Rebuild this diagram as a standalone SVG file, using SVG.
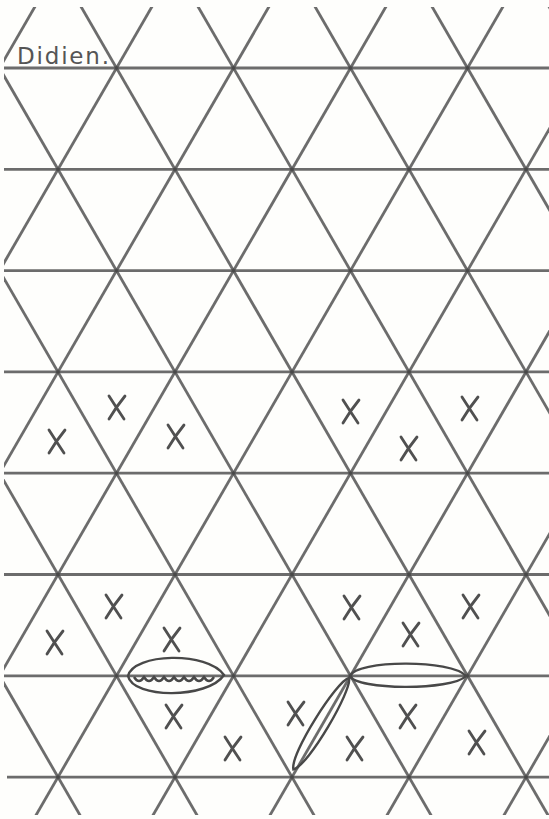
<svg xmlns="http://www.w3.org/2000/svg" width="549" height="819" viewBox="0 0 549 819">
<style>
.g{stroke:#474747;stroke-opacity:0.8;stroke-width:2.8;fill:none}
.x{stroke:#505050;stroke-width:2.8;fill:none;stroke-linecap:round}
.lens{stroke:#484848;stroke-width:2.4;fill:none}
</style>
<defs>
<clipPath id="clip"><rect x="4" y="7" width="545" height="808"/></clipPath>
<path id="xm" d="M-7,-11 Q0,0 8,12 M9,-11 Q0,0 -7,12"/>
</defs>
<rect width="549" height="819" fill="#fefefc"/>
<g id="grid" clip-path="url(#clip)">
<g id="horizontal">
<line class="g" x1="0" y1="68" x2="549" y2="68"/>
<line class="g" x1="0" y1="169.3" x2="549" y2="169.3"/>
<line class="g" x1="0" y1="270.6" x2="549" y2="270.6"/>
<line class="g" x1="0" y1="371.9" x2="549" y2="371.9"/>
<line class="g" x1="0" y1="473.2" x2="549" y2="473.2"/>
<line class="g" x1="0" y1="574.5" x2="549" y2="574.5"/>
<line class="g" x1="0" y1="675.8" x2="549" y2="675.8"/>
<line class="g" x1="7" y1="777.1" x2="549" y2="777.1"/>
</g>
<g id="diag-down">
<line class="g" x1="-390.8" y1="0" x2="82.2" y2="819"/>
<line class="g" x1="-273.8" y1="0" x2="199.2" y2="819"/>
<line class="g" x1="-156.8" y1="0" x2="316.2" y2="819"/>
<line class="g" x1="-39.8" y1="0" x2="433.2" y2="819"/>
<line class="g" x1="77.2" y1="0" x2="550.2" y2="819"/>
<line class="g" x1="194.2" y1="0" x2="667.2" y2="819"/>
<line class="g" x1="311.2" y1="0" x2="784.2" y2="819"/>
<line class="g" x1="428.2" y1="0" x2="901.2" y2="819"/>
<line class="g" x1="545.2" y1="0" x2="1018.2" y2="819"/>
</g>
<g id="diag-up">
<line class="g" x1="38.8" y1="0" x2="-434.2" y2="819"/>
<line class="g" x1="155.8" y1="0" x2="-317.2" y2="819"/>
<line class="g" x1="272.8" y1="0" x2="-200.2" y2="819"/>
<line class="g" x1="389.8" y1="0" x2="-83.2" y2="819"/>
<line class="g" x1="506.8" y1="0" x2="33.8" y2="819"/>
<line class="g" x1="623.8" y1="0" x2="150.8" y2="819"/>
<line class="g" x1="740.8" y1="0" x2="267.8" y2="819"/>
<line class="g" x1="857.8" y1="0" x2="384.8" y2="819"/>
<line class="g" x1="974.8" y1="0" x2="501.8" y2="819"/>
</g>
</g>
<g id="label">
<text x="17" y="64" font-family="DejaVu Sans, sans-serif" font-size="23" fill="#555" textLength="92" lengthAdjust="spacing">Didien.</text>
</g>
<g id="marks-row4" class="x">
<use href="#xm" x="56" y="441"/>
<use href="#xm" x="116" y="407"/>
<use href="#xm" x="175" y="436"/>
<use href="#xm" x="350" y="411"/>
<use href="#xm" x="408" y="448"/>
<use href="#xm" x="469" y="408"/>
</g>
<g id="marks-row6" class="x">
<use href="#xm" x="54" y="642"/>
<use href="#xm" x="113" y="606"/>
<use href="#xm" x="171" y="639"/>
<use href="#xm" x="351" y="607"/>
<use href="#xm" x="410" y="634"/>
<use href="#xm" x="470" y="606"/>
</g>
<g id="marks-row7" class="x">
<use href="#xm" x="173" y="716"/>
<use href="#xm" x="232" y="748"/>
<use href="#xm" x="295" y="713"/>
<use href="#xm" x="354" y="748"/>
<use href="#xm" x="407" y="716"/>
<use href="#xm" x="476" y="742"/>
</g>
<g id="loop-left" class="lens">
<path d="M128,676 C133,653 208,651 224,675 C208,699 133,699 128,676 Z"/>
<path d="M134,677 q5,8 10,0 q5,8 10,0 q5,8 10,0 q5,8 10,0 q5,8 10,0 q5,8 10,0 q5,8 10,0 q5,8 10,0"/>
</g>
<g id="loop-right" class="lens">
<path d="M350,676 C356,660 452,659 466,676 C452,691 356,690 350,676 Z"/>
</g>
<g id="loop-diag" class="lens">
<path transform="translate(349,678) rotate(121.3)" d="M0,0 C8,-9 96,-11 107,0 C96,11 8,9 0,0 Z"/>
</g>
</svg>
